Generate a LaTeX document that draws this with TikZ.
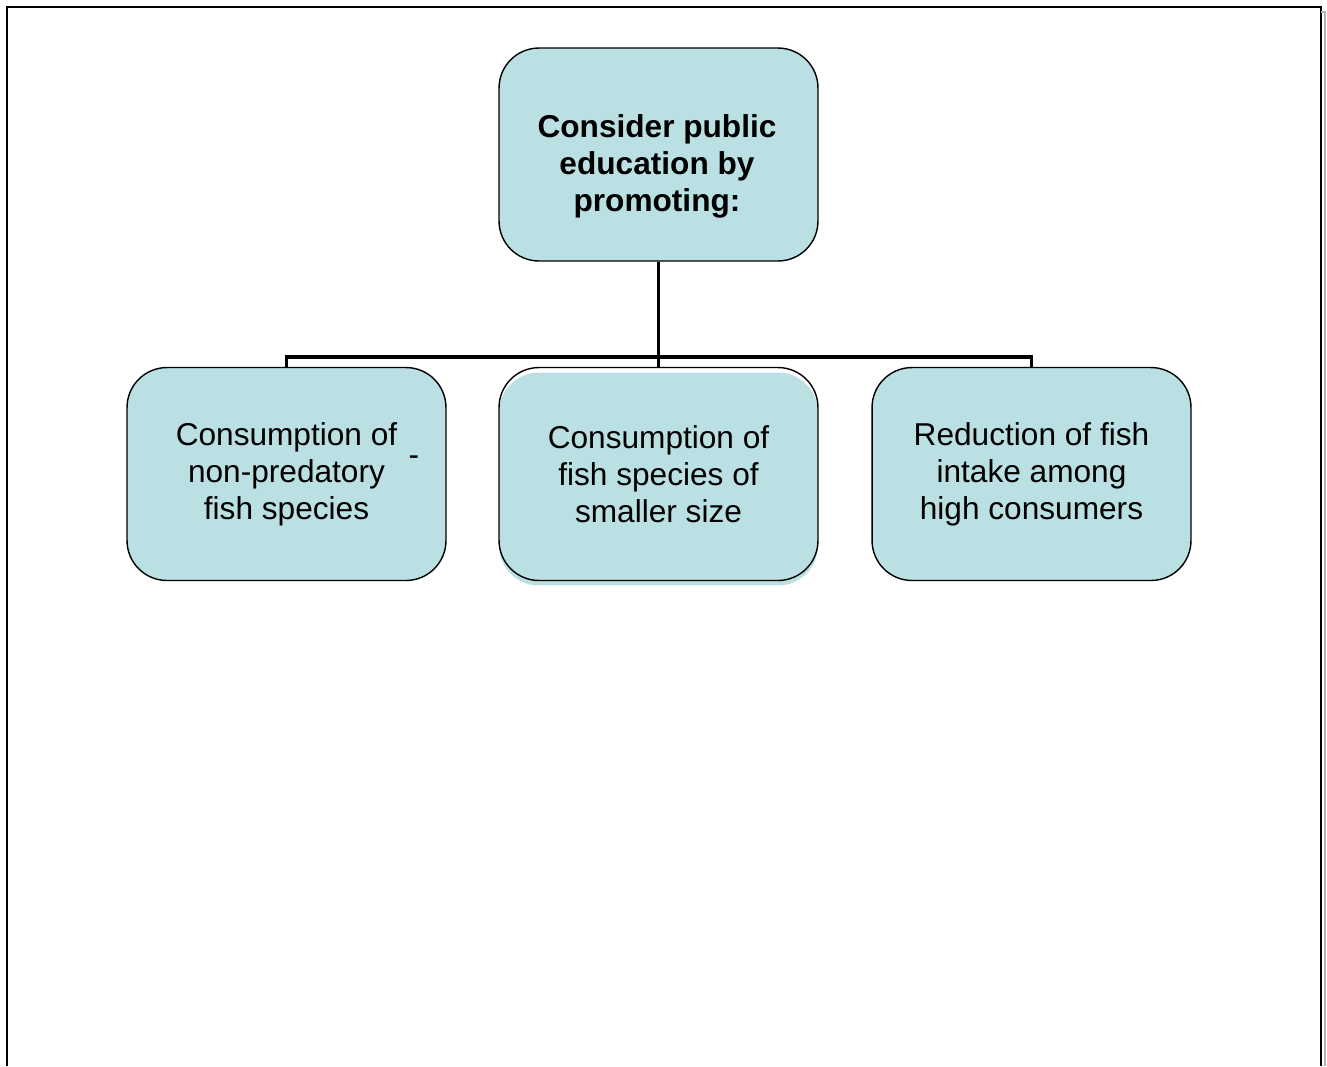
\documentclass[tikz,border=0pt]{standalone}
\usepackage{fontspec}
\setmainfont{Liberation Sans}
\usepackage{tikz}
\usetikzlibrary{shapes}
\usetikzlibrary{positioning}
\usetikzlibrary{shadows}

\definecolor{boxfill}{RGB}{186,224,227}
\tikzset{
  box/.style={draw, line width=0.8pt, rounded corners=0.8cm, fill=boxfill,
    minimum width=6.38cm, minimum height=4.26cm, align=center,
    font=\fontsize{18}{21}\selectfont},
  bus/.style={line width=2.2pt}
}

\begin{document}
\begin{tikzpicture}[x=0.02cm,y=-0.02cm]
  \useasboundingbox (0,0) rectangle (1327,1066);
  % page frame
  \draw[line width=1.2pt] (7,1066) -- (7,7) -- (1321,7) -- (1321,1066);
  \draw[gray!60, line width=0.8pt] (1321,12) -- (1325,12) -- (1325,1066);
  % boxes
  \node[box] (promote) at (658.5,154.5) {};
  \node[align=center, font=\bfseries\fontsize{18}{21}\selectfont] (promotetext)
    at (657,166) {Consider public\\education by\\promoting:};
  \node[box] (nonpred) at (286.5,474) {Consumption of\\non-predatory\\fish species};
  \node[box, fill=none, drop shadow={shadow xshift=0cm, shadow yshift=-0.1cm,
    fill=boxfill, opacity=1}] (smaller) at (658.5,474)
    {Consumption of\\fish species of\\smaller size};
  \node[box] (reduce) at (1031.5,474) {Reduction of fish\\intake among\\high consumers};
  \node[font=\fontsize{18}{21}\selectfont] (dash) at (414,461) {-};
  % connectors
  \coordinate (split) at (658.5,357);
  \draw[bus] (promote.south) -- (smaller.north);
  \draw[bus] (split) -| (nonpred.north);
  \draw[bus] (split) -| (reduce.north);
\end{tikzpicture}
\end{document}
